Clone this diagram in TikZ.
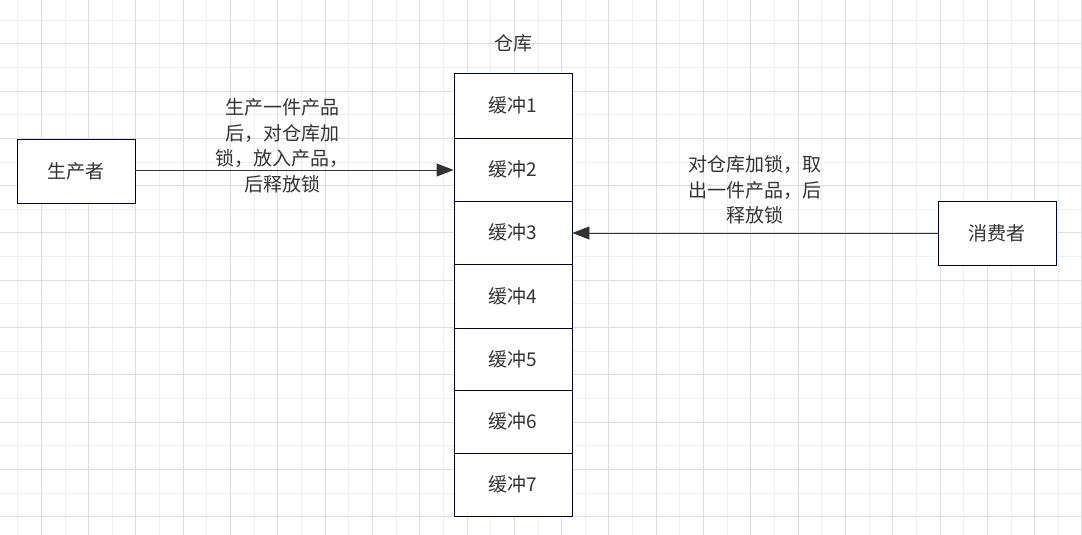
\documentclass[tikz,border=0pt]{standalone}
\usepackage{fontspec}
\setmainfont{Noto Sans CJK SC}
\usetikzlibrary{arrows.meta}
\begin{document}
\begin{tikzpicture}[x=1pt,y=-1pt,
  box/.style={draw=black!80!blue,line width=0.8pt,minimum width=118pt,inner sep=0pt,font=\fontsize{19}{22}\selectfont,text=black!80},
  lbl/.style={font=\fontsize{19}{25.5}\selectfont,align=center,text=black!80,inner sep=1pt},
  arr/.style={draw=black!80,line width=0.8pt,-{Triangle[length=17pt,width=13pt]}}]
\useasboundingbox (0,0) rectangle (1082,535);
\fill[white] (0,0) rectangle (1082,535);
\foreach \i in {0,...,46} {\draw[black!6,line width=0.8pt] ({17.6+23.65*\i},0) -- ({17.6+23.65*\i},535);}
\foreach \i in {0,...,22} {\draw[black!6,line width=0.8pt] (0,{20+23.65*\i}) -- (1082,{20+23.65*\i});}
\foreach \i in {0,...,23} {\draw[black!13,line width=0.8pt] ({41.25+47.3*\i},0) -- ({41.25+47.3*\i},535);}
\foreach \i in {0,...,11} {\draw[black!13,line width=0.8pt] (0,{43.65+47.3*\i}) -- (1082,{43.65+47.3*\i});}
\node[box,minimum height=64pt,fill=white] (p) at (76,171) {生产者};
\node[box,minimum height=64pt,fill=white] (c) at (997,233) {消费者};
\node[font=\fontsize{19}{22}\selectfont,text=black!80] (t) at (513,43) {仓库};
\foreach \a/\b/\n in {73/138/1,138/201/2,201/264/3,264/328/4,328/390/5,390/453/6,453/516/7}
  \node[box,fill=white,minimum height={\b-\a}] (b\n) at (513,{(\a+\b)/2}) {缓冲\n};
\draw[arr] (p.east|-0,170) -- (b2.west|-0,170);
\draw[arr] (c.west|-0,233) -- (b3.east|-0,233);
\node[lbl] (l1) at (282,146) {生产一件产品\\后，对仓库加\\锁，放入产品，\\后释放锁};
\node[lbl] (l2) at (755,190) {对仓库加锁，取\\出一件产品，后\\释放锁};
\end{tikzpicture}
\end{document}
